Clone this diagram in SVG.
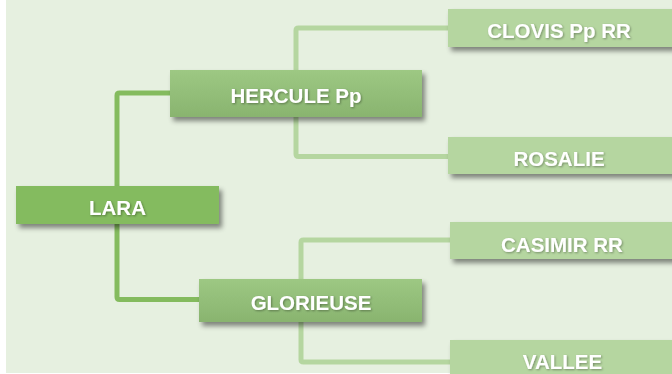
<svg xmlns="http://www.w3.org/2000/svg" width="672" height="374" viewBox="0 0 672 374">
  <defs>
    <filter id="sh" x="-10%" y="-30%" width="130%" height="180%">
      <feDropShadow dx="3" dy="4" stdDeviation="2.5" flood-color="#000" flood-opacity="0.45"/>
    </filter>
    <filter id="tsh" x="-10%" y="-30%" width="120%" height="160%">
      <feDropShadow dx="1" dy="1" stdDeviation="0.8" flood-color="#000" flood-opacity="0.35"/>
    </filter>
    <linearGradient id="mid" x1="0" y1="0" x2="0" y2="1">
      <stop offset="0" stop-color="#9DC883"/>
      <stop offset="1" stop-color="#89B46F"/>
    </linearGradient>
    <style>
      .t { font-family: "Liberation Sans", Arial, sans-serif; font-weight: bold; font-size: 20.5px; fill: #FFFFFF; text-anchor: middle; filter: url(#tsh); }
      .dark { fill: #84BB5E; }
      .mid { fill: url(#mid); }
      .light { fill: #B5D6A0; }
      .c1 { fill: none; stroke: #84BB5E; stroke-width: 5; stroke-linejoin: round; }
      .c2 { fill: none; stroke: #B5D6A0; stroke-width: 5; stroke-linejoin: round; }
    </style>
  </defs>
  <rect x="0" y="0" width="672" height="374" fill="#FFFFFF"/>
  <rect x="6" y="0" width="666" height="373" fill="#E6F0E0"/>

  <g id="connectors">
    <path class="c1" d="M172,93 H119.5 Q117,93 117,95.5 V297 Q117,299.5 119.5,299.5 H201"/>
    <path class="c2" d="M450,28 H298.5 Q296,28 296,30.5 V154 Q296,156.5 298.5,156.5 H450"/>
    <path class="c2" d="M452,240 H303.5 Q301,240 301,242.5 V359.5 Q301,362 303.5,362 H452"/>
  </g>

  <g id="lara">
    <rect class="dark" x="16" y="186" width="203" height="38" filter="url(#sh)"/>
    <text class="t" x="117.5" y="215">LARA</text>
  </g>
  <g id="hercule">
    <rect class="mid" x="170" y="70" width="252" height="47" filter="url(#sh)"/>
    <text class="t" x="296" y="102.5">HERCULE Pp</text>
  </g>
  <g id="glorieuse">
    <rect class="mid" x="199" y="279" width="223" height="43" filter="url(#sh)"/>
    <text class="t" x="311" y="310">GLORIEUSE</text>
  </g>
  <g id="clovis">
    <rect class="light" x="448" y="9" width="226" height="38" filter="url(#sh)"/>
    <text class="t" x="559" y="37.5">CLOVIS Pp RR</text>
  </g>
  <g id="rosalie">
    <rect class="light" x="448" y="137" width="226" height="37" filter="url(#sh)"/>
    <text class="t" x="559" y="166">ROSALIE</text>
  </g>
  <g id="casimir">
    <rect class="light" x="450" y="222" width="226" height="37" filter="url(#sh)"/>
    <text class="t" x="562" y="252">CASIMIR RR</text>
  </g>
  <g id="vallee">
    <rect class="light" x="450" y="340" width="226" height="40" filter="url(#sh)"/>
    <text class="t" x="562.5" y="369">VALLEE</text>
  </g>
</svg>
